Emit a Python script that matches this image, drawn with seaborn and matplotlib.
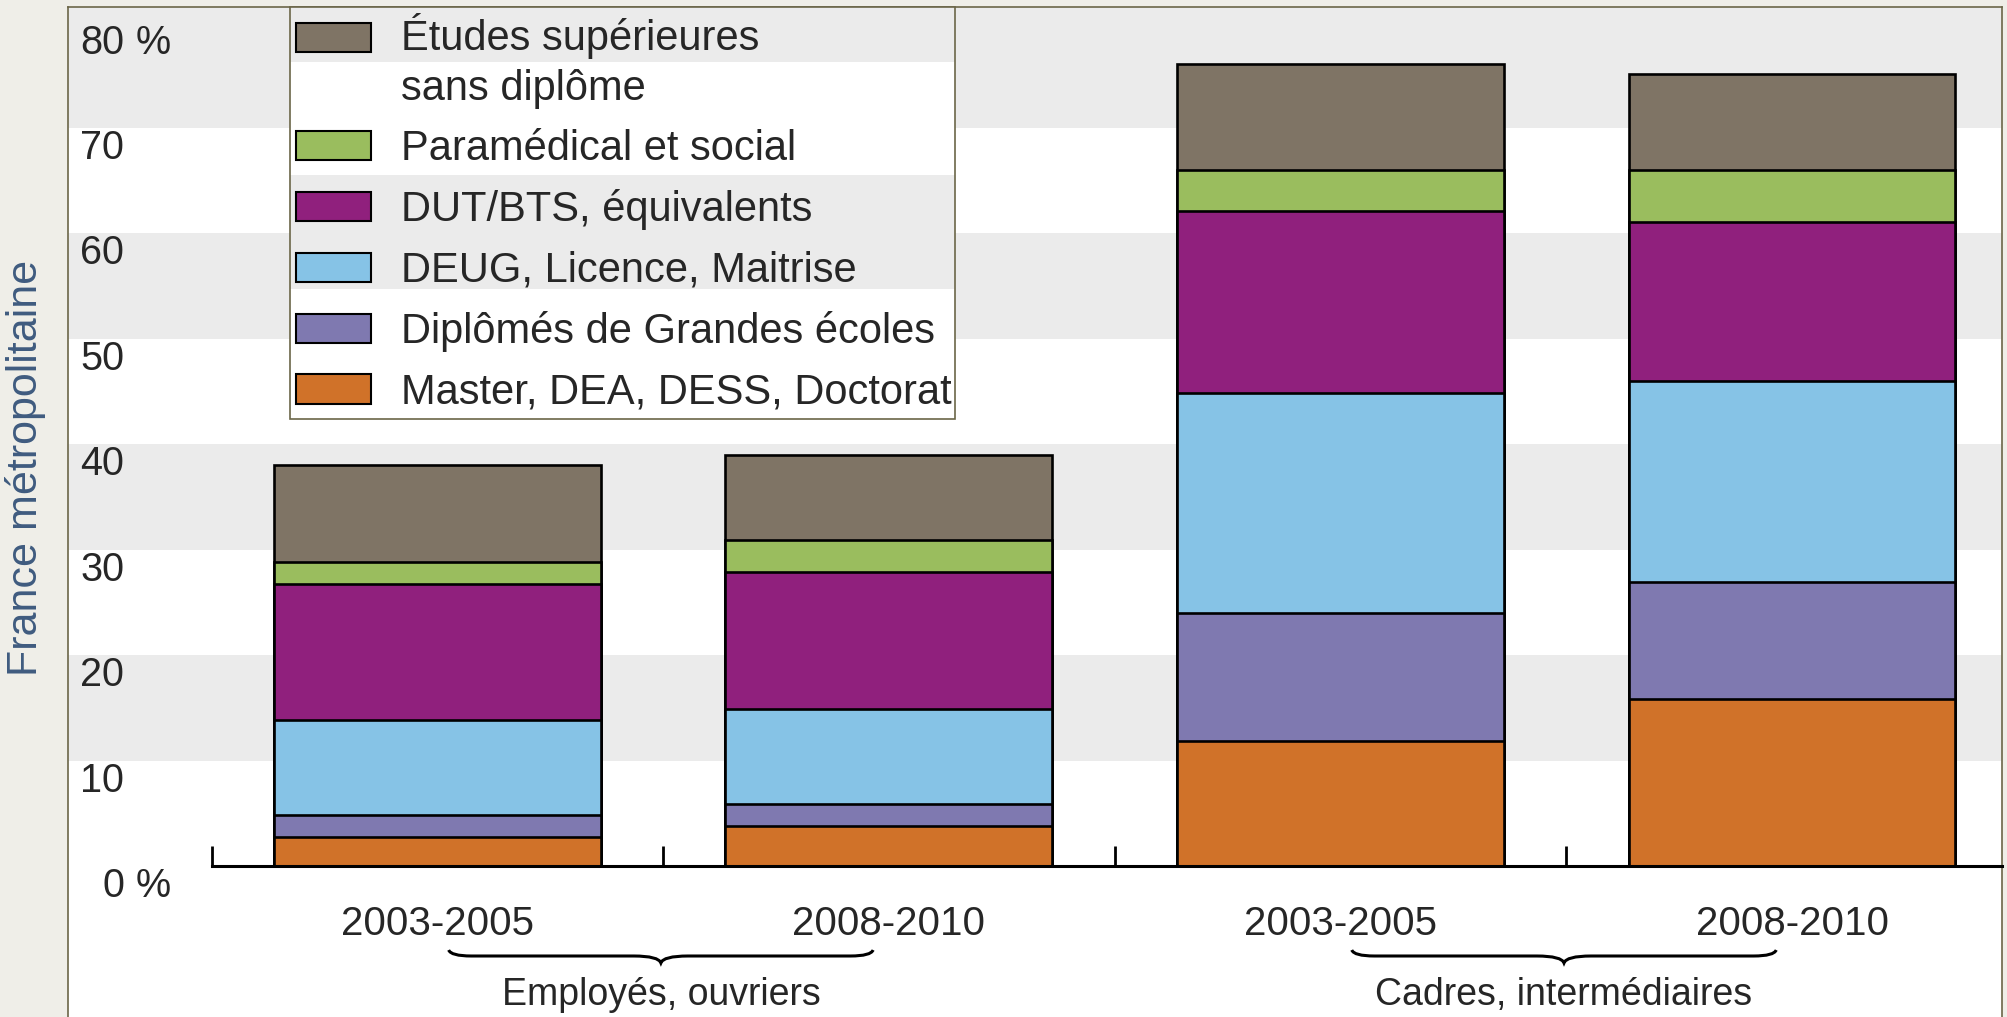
import matplotlib
matplotlib.use("Agg")
import pandas as pd
import seaborn as sns
import matplotlib.pyplot as plt
from matplotlib.patches import Patch, Rectangle, PathPatch
from matplotlib.path import Path
from matplotlib.legend_handler import HandlerPatch
from matplotlib.transforms import ScaledTranslation, blended_transform_factory

# one key per bar, labels shown under the bars
bar_keys = ["E1", "E2", "C1", "C2"]
periods = ["2003-2005", "2008-2010", "2003-2005", "2008-2010"]
groups = ["Employés, ouvriers", "Cadres, intermédiaires"]

# layers, bottom to top (% of the population)
master = [2.8, 3.8, 11.9, 15.9]
grandes_ecoles = [2.1, 2.1, 12.1, 11.1]
deug = [9.0, 9.0, 20.9, 19.0]
dut_bts = [12.9, 13.0, 17.2, 15.1]
paramedical = [2.1, 3.0, 3.9, 4.9]
sans_diplome = [9.2, 8.1, 10.1, 9.1]

layers = [master, grandes_ecoles, deug, dut_bts, paramedical, sans_diplome]
layer_labels = ["Master, DEA, DESS, Doctorat", "Diplômés de Grandes écoles",
                "DEUG, Licence, Maitrise", "DUT/BTS, équivalents",
                "Paramédical et social", "Études supérieures\nsans diplôme"]
colors = ["#d07229", "#7f79b0", "#86c3e6", "#90207d", "#9abd5e", "#7f7465"]
y_ticks = [0, 10, 20, 30, 40, 50, 60, 70, 80]

sns.set_style("white")
plt.rcParams['font.family'] = ['Liberation Sans', 'DejaVu Sans']

BEIGE = "#efeee8"
OLIVE = "#6b6648"
GREY = "#ebebeb"
LINE_SP = 1.3
LEG_FS = 30

fig = plt.figure(figsize=(20.08, 10.17), dpi=100, facecolor=BEIGE)
ax = fig.add_axes([68 / 2008, 0, 1934 / 2008, 1010 / 1017])
ax.set_facecolor("white")

# alternating bands
for lo in [10, 30, 50, 70]:
    ax.axhspan(lo, lo + 10 if lo < 70 else 100, color=GREY, lw=0, zorder=0)

# cumulative table, drawn from the top layer down
df = pd.DataFrame({"bar": bar_keys})
running = [0.0] * 4
for i, vals in enumerate(layers):
    running = [r + v for r, v in zip(running, vals)]
    df[f"cum{i}"] = running

for i in reversed(range(len(layers))):
    sns.barplot(data=df, x="bar", y=f"cum{i}", order=bar_keys, color=colors[i],
                saturation=1, width=0.724, edgecolor="black", linewidth=1.9,
                errorbar=None, ax=ax, zorder=2)

ax.set_xlim(-0.818, 3.465)
ax.set_ylim(-14.27, 81.47)
ax.set_xlabel("")
ax.set_ylabel("")

for s in ["left", "top", "right"]:
    ax.spines[s].set_color(OLIVE)
    ax.spines[s].set_linewidth(1.2)
ax.spines["bottom"].set_position(("data", 0))
ax.spines["bottom"].set_bounds(-0.5, 3.465)
ax.spines["bottom"].set_color("black")
ax.spines["bottom"].set_linewidth(2.2)
ax.spines["bottom"].set_zorder(3)

ax.set_xticks(range(4), labels=periods)
ax.set_xticks([-0.5, 0.5, 1.5, 2.5], minor=True)
ax.tick_params(axis="x", which="both", bottom=True)
ax.tick_params(axis="x", which="major", length=0, pad=28, labelsize=29)
ax.tick_params(axis="x", which="minor", direction="in", length=14.4, width=2, color="black")

ax.set_yticks(y_ticks, labels=[str(v) for v in y_ticks])
ax.tick_params(axis="y", length=0, pad=-40.5, labelsize=28.5)
shift = ScaledTranslation(0, -0.16, fig.dpi_scale_trans)
for lbl in ax.get_yticklabels():
    lbl.set_transform(lbl.get_transform() + shift)
for v in [0, 80]:
    ax.text(68 / 1934, v, "%", fontsize=28.5, ha="left", va="center_baseline",
            transform=ax.get_yaxis_transform() + shift)


def fy(py):
    return (1017 - py) / 1010


def top_patch(legend, orig_handle, xdescent, ydescent, width, height, fontsize):
    # two-line label: put the swatch next to the first line
    return Rectangle((-xdescent, -ydescent + 0.5 * LINE_SP * 0.9 * fontsize), width, height)


lx0, lx1 = (290 - 68) / 1934, (955 - 68) / 1934
handles = [Patch(facecolor=colors[i], edgecolor="black", linewidth=1.5) for i in reversed(range(6))]
labels = [layer_labels[i] for i in reversed(range(6))]
leg = ax.legend(handles, labels, loc="upper left", bbox_to_anchor=(lx0, 0, lx1 - lx0, 1.0),
                mode="expand", borderaxespad=0, fontsize=LEG_FS, handlelength=1.8,
                handleheight=0.7, handletextpad=0.72, labelspacing=0.49, borderpad=0.15,
                fancybox=False, framealpha=1, facecolor="none", edgecolor=OLIVE,
                handler_map={handles[0]: HandlerPatch(patch_func=top_patch)})
leg.get_texts()[0].set_linespacing(LINE_SP)
leg.get_frame().set_linewidth(1.2)
leg.set_zorder(5)

# banded background behind the legend, sized from the drawn legend box
fig.canvas.draw()
lb = leg.get_window_extent().transformed(ax.transAxes.inverted())
ax.add_patch(Rectangle((lb.x0, lb.y0), lb.width, lb.height, transform=ax.transAxes,
                       facecolor="white", lw=0, zorder=4))
for top, bot in [(7, 62), (175, 289)]:
    ax.add_patch(Rectangle((lb.x0, fy(bot)), lb.width, fy(top) - fy(bot), transform=ax.transAxes,
                           facecolor=GREY, lw=0, zorder=4.2))

# group braces and labels
blend = blended_transform_factory(ax.transData, ax.transAxes)
for g, name in enumerate(groups):
    L, R = 2 * g + 0.025, 2 * g + 1 - 0.035
    M = (L + R) / 2
    verts = [(L, fy(950)), (L + 0.005, fy(956)), (L + 0.05, fy(956)),
             (M - 0.06, fy(956)), (M - 0.005, fy(956)), (M, fy(963)),
             (M + 0.005, fy(956)), (M + 0.06, fy(956)),
             (R - 0.05, fy(956)), (R - 0.005, fy(956)), (R, fy(950))]
    codes = [Path.MOVETO, Path.CURVE3, Path.CURVE3, Path.LINETO, Path.CURVE3, Path.CURVE3,
             Path.CURVE3, Path.CURVE3, Path.LINETO, Path.CURVE3, Path.CURVE3]
    ax.add_patch(PathPatch(Path(verts, codes), transform=blend, facecolor="none",
                           edgecolor="black", lw=2.2, clip_on=False))
    ax.text(M, fy(1005), name, transform=blend, ha="center", va="baseline", fontsize=27)

fig.text(26 / 2008, 1 - 468 / 1017, "France métropolitaine", rotation=90, ha="center",
         va="center", fontsize=31, color="#3f5b7f")

fig.savefig("out.png", dpi=100, facecolor=BEIGE)
